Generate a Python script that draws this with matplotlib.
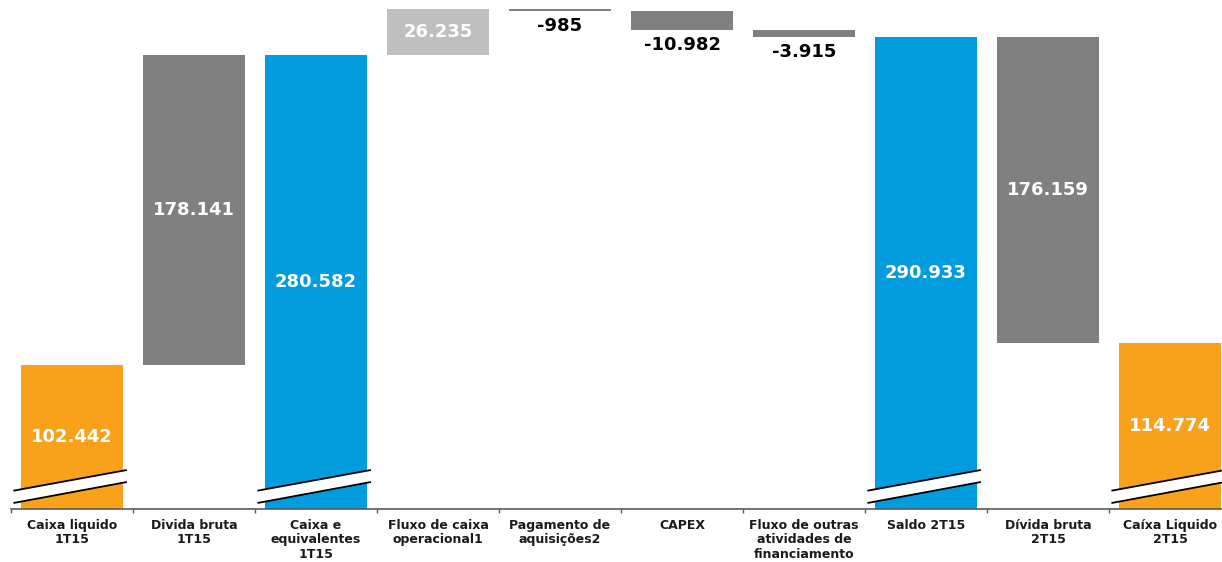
# Cascata do caixa liquido 1T15 -> 2T15 (eixo com quebra)

import numpy as np
import matplotlib.pyplot as plt
import matplotlib.patches as mpatches

# Dados
categorias = ["Caixa liquido\n1T15", "Divida bruta\n1T15", "Caixa e\nequivalentes\n1T15",
              "Fluxo de caixa\noperacional1", "Pagamento de\naquisições2", "CAPEX",
              "Fluxo de outras\natividades de\nfinanciamento", "Saldo 2T15",
              "Dívida bruta\n2T15", "Caíxa Liquido\n2T15"]
valores = [102442, 178141, 280582, 26235, -985, -10982, -3915, 290933, -176159, 114774]
tipos = ["total", "delta", "total", "delta", "delta", "delta", "delta", "total", "delta", "total"]
cores = ["#F9A11B", "#808080", "#009CDE", "#BFBFBF", "#808080", "#808080", "#808080",
         "#009CDE", "#808080", "#F9A11B"]
rotulo_dentro = [True, True, True, True, False, False, False, True, True, True]
quebra = [True, False, True, False, False, False, False, True, False, True]

# Limites do eixo (eixo vertical cortado)
y0, y1 = 19540, 312070

def fmt(v):
    return f"{v:,}".replace(",", ".")

# Calcula base e topo de cada barra
bases, alturas = [], []
acum = 0
for v, t in zip(valores, tipos):
    if t == "total":
        bases.append(0)
        alturas.append(v)
        acum = v
    else:
        bases.append(acum if v > 0 else acum + v)
        alturas.append(abs(v))
        acum += v

W, H = 1222, 562
fig = plt.figure(figsize=(W / 100, H / 100), dpi=100)
ax = fig.add_axes([11 / W, 53 / H, 1220 / W, 509 / H])

x = np.arange(len(categorias))
ax.bar(x, alturas, bottom=bases, width=0.83, color=cores, zorder=2)

ax.set_xlim(-0.5, len(categorias) - 0.5)
ax.set_ylim(y0, y1)

# Rotulos
for i, (v, b, h) in enumerate(zip(valores, bases, alturas)):
    if rotulo_dentro[i]:
        ymid = (max(b, y0) + b + h) / 2
        ax.text(i, ymid, fmt(abs(v)), ha="center", va="center", color="white",
                fontsize=13, fontweight="bold", zorder=4)
    else:
        ax.annotate(fmt(v), (i, b), xytext=(0, -11), textcoords="offset points",
                    ha="center", va="center", color="black", fontsize=13,
                    fontweight="bold", zorder=4)

# Marcas de quebra (faixa branca inclinada)
px = (y1 - y0) / 509
for i in range(len(categorias)):
    if not quebra[i]:
        continue
    xl, xr = i - 0.48, i + 0.45
    sup = [y0 + 18.3 * px, y0 + 39 * px]
    inf = [y0 + 6 * px, y0 + 27 * px]
    poly = mpatches.Polygon([[xl, inf[0]], [xr, inf[1]], [xr, sup[1]], [xl, sup[0]]],
                            closed=True, facecolor="white", edgecolor="none", zorder=3,
                            clip_on=False)
    ax.add_patch(poly)
    ax.plot([xl, xr], sup, color="black", lw=1.3, zorder=3, solid_capstyle="butt")
    ax.plot([xl, xr], inf, color="black", lw=1.3, zorder=3, solid_capstyle="butt")

# Eixos
for s in ["top", "right", "left"]:
    ax.spines[s].set_visible(False)
ax.spines["bottom"].set_color("#595959")
ax.spines["bottom"].set_linewidth(1.2)
ax.set_yticks([])
ax.set_xticks(x)
ax.set_xticklabels(categorias, fontsize=9, fontweight="bold", color="#1a1a1a",
                   linespacing=1.15)
ax.set_xticks(np.arange(-0.5, len(categorias)), minor=True)
ax.tick_params(axis="x", which="major", length=0, pad=7)
ax.tick_params(axis="x", which="minor", length=3, width=1, color="#595959", direction="out")

fig.savefig("out.png", dpi=100)
